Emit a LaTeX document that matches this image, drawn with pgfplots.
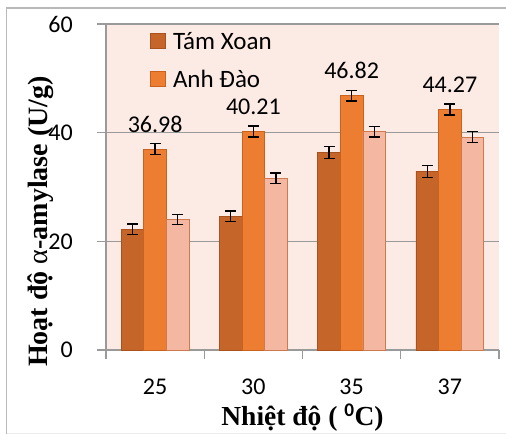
\documentclass[border=0pt]{standalone}
\usepackage{fontspec}
\setmainfont{Carlito}
\newfontfamily\tnr{Liberation Serif}
\usepackage{pgfplots}
\pgfplotsset{compat=1.18}
\definecolor{cDark}{HTML}{C5652A}
\definecolor{cMid}{HTML}{ED7D31}
\definecolor{cLight}{HTML}{F4B8A2}
\definecolor{eDark}{HTML}{A9521E}
\definecolor{eMid}{HTML}{C8621E}
\definecolor{eLight}{HTML}{CF7A4E}
\definecolor{bgPink}{HTML}{FCEAE5}
\definecolor{gridGray}{HTML}{9A9A9A}
\begin{document}
\begin{tikzpicture}
\useasboundingbox (0,0) rectangle (506pt,434pt);
\draw[gray!55, line width=1.3pt] (6.5pt,0) -- (6.5pt,426pt) -- (506pt,426pt);
\draw[gray!15, line width=1pt] (6.5pt,1pt) -- (506pt,1pt);
\begin{axis}[
  at={(106pt,84pt)}, anchor=south west,
  scale only axis, width=393pt, height=326pt,
  xmin=-0.5, xmax=3.5, ymin=0, ymax=60,
  axis lines*=left,
  axis line style={gridGray, line width=1.2pt},
  axis background/.style={fill=bgPink},
  ybar=0pt, bar width=0.23,
  ytick={0,20,40,60},
  ymajorgrids, grid style={gridGray, line width=1.2pt},
  xtick={-0.5,0.5,1.5,2.5,3.5}, xticklabels={},
  extra x ticks={0,1,2,3}, extra x tick labels={25,30,35,37},
  extra x tick style={major tick length=0pt, grid=none},
  tick align=outside, major tick length=9pt,
  tick style={gridGray, line width=1.2pt},
  /pgf/number format/assume math mode=true,
  tick label style={font=\fontsize{24}{28}\selectfont},
  yticklabel style={anchor=east, inner sep=0pt, xshift=-24pt},
  xticklabel style={anchor=base, inner sep=0pt, yshift=-44pt},
  ylabel={{\tnr\bfseries Hoạt độ }{\tnr α}{\tnr\bfseries -amylase (U/g)}},
  ylabel style={at={(axis description cs:-0.165,0.394)}, anchor=center, rotate=0, font=\fontsize{28}{32}\selectfont},
  xlabel={{\tnr\bfseries Nhiệt độ ( $^{\mathbf{0}}$C)}},
  xlabel style={at={(axis description cs:0.5,-0.233)}, anchor=base, font=\fontsize{27.5}{31}\selectfont},
  legend style={draw=none, fill=none, at={(axis description cs:0.112,0.975)}, anchor=north west,
    font=\fontsize{25}{29}\selectfont, row sep=21pt, column sep=7pt, inner sep=0pt,
    nodes={inner sep=0pt, text depth=0pt}},
  legend cell align=left,
  legend image code/.code={\draw[#1] (0pt,-7.5pt) rectangle (15pt,7.5pt);},
  error bars/error bar style={black, line width=1.3pt},
  error bars/error mark options={black, rotate=90, mark size=5.5pt, line width=1.3pt},
]
\addplot[fill=cDark, draw=eDark, line width=0.8pt, bar shift=-0.23,
  error bars/.cd, y dir=both, y explicit]
  coordinates {(0,22.2) +- (0,1.0) (1,24.6) +- (0,1.0) (2,36.4) +- (0,1.1) (3,32.9) +- (0,1.1)};
\addplot[fill=cMid, draw=eMid, line width=0.8pt, bar shift=0,
  nodes near coords, point meta=y,
  nodes near coords style={black, font=\fontsize{24}{28}\selectfont, yshift=13pt,
    /pgf/number format/fixed, /pgf/number format/fixed zerofill, /pgf/number format/precision=2},
  error bars/.cd, y dir=both, y explicit]
  coordinates {(0,36.98) +- (0,1.0) (1,40.21) +- (0,1.0) (2,46.82) +- (0,1.0) (3,44.27) +- (0,1.0)};
\addplot[fill=cLight, draw=eLight, line width=0.8pt, bar shift=0.23,
  error bars/.cd, y dir=both, y explicit]
  coordinates {(0,24.0) +- (0,0.9) (1,31.6) +- (0,1.0) (2,40.2) +- (0,1.0) (3,39.2) +- (0,1.0)};
\legend{Tám Xoan, Anh Đào}
\end{axis}
\end{tikzpicture}
\end{document}
